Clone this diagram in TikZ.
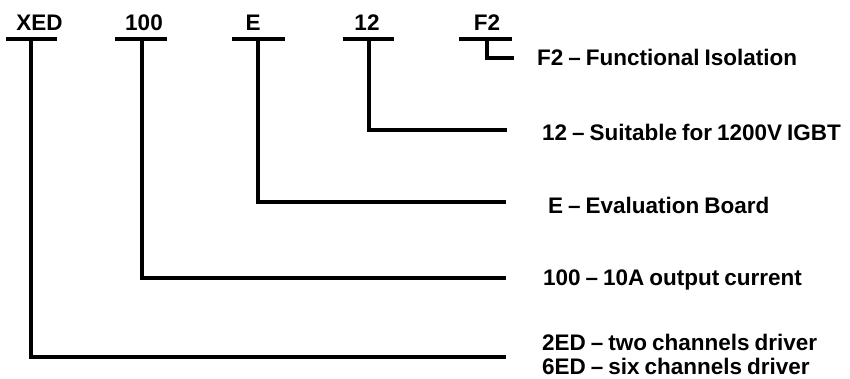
\documentclass[tikz,border=0pt]{standalone}
\usepackage{fontspec}
\setmainfont{Liberation Sans}
\newcommand{\lblfont}{\fontsize{22.5}{27}\selectfont\bfseries\fontdimen2\font=0.22em\relax}
\begin{document}
\begin{tikzpicture}[x=1pt,y=-1pt,
  wire/.style={line width=4pt, line join=miter},
  code/.style={font=\lblfont, anchor=base, inner sep=0pt},
  desc/.style={font=\lblfont, anchor=base west, inner sep=0pt}]
\useasboundingbox (0,0) rectangle (850,378);
% codes
\node[code] (cXED) at (39.5,30) {XED};
\node[code] (c100) at (144,30) {100};
\node[code] (cE) at (253,30) {E};
\node[code] (c12) at (367,30) {12};
\node[code] (cF2) at (487,30) {F2};
% bars
\coordinate (bXa) at (6,39);   \coordinate (bXb) at (57,39);
\coordinate (b1a) at (115,39); \coordinate (b1b) at (167,39);
\coordinate (bEa) at (232,39); \coordinate (bEb) at (285,39);
\coordinate (b2a) at (343,39); \coordinate (b2b) at (394,39);
\coordinate (bFa) at (459,39); \coordinate (bFb) at (512,39);
\draw[wire] (bXa) -- (bXb);
\draw[wire] (b1a) -- (b1b);
\draw[wire] (bEa) -- (bEb);
\draw[wire] (b2a) -- (b2b);
\draw[wire] (bFa) -- (bFb);
% descriptions
\node[desc] (dF2) at (537,65) {F2 -- Functional Isolation};
\node[desc] (d12) at (542,140) {12 -- Suitable for 1200V IGBT};
\node[desc] (dE) at (548,213) {E -- Evaluation Board};
\node[desc] (d100) at (543,285) {100 -- 10A output current};
\node[desc] (d2ED) at (542,350) {2ED -- two channels driver};
\node[desc] (d6ED) at (542,374.5) {6ED -- six channels driver};
% stems and leaders
\coordinate (sF) at (487,39); \coordinate (eF) at (514,58);
\coordinate (s2) at (369,39); \coordinate (e2) at (507,130);
\coordinate (sE) at (258,39); \coordinate (eE) at (506,202);
\coordinate (s1) at (142,39); \coordinate (e1) at (506,278);
\coordinate (sX) at (31,39);  \coordinate (eX) at (506,357);
\draw[wire] (sF) |- (eF);
\draw[wire] (s2) |- (e2);
\draw[wire] (sE) |- (eE);
\draw[wire] (s1) |- (e1);
\draw[wire] (sX) |- (eX);
\end{tikzpicture}
\end{document}
